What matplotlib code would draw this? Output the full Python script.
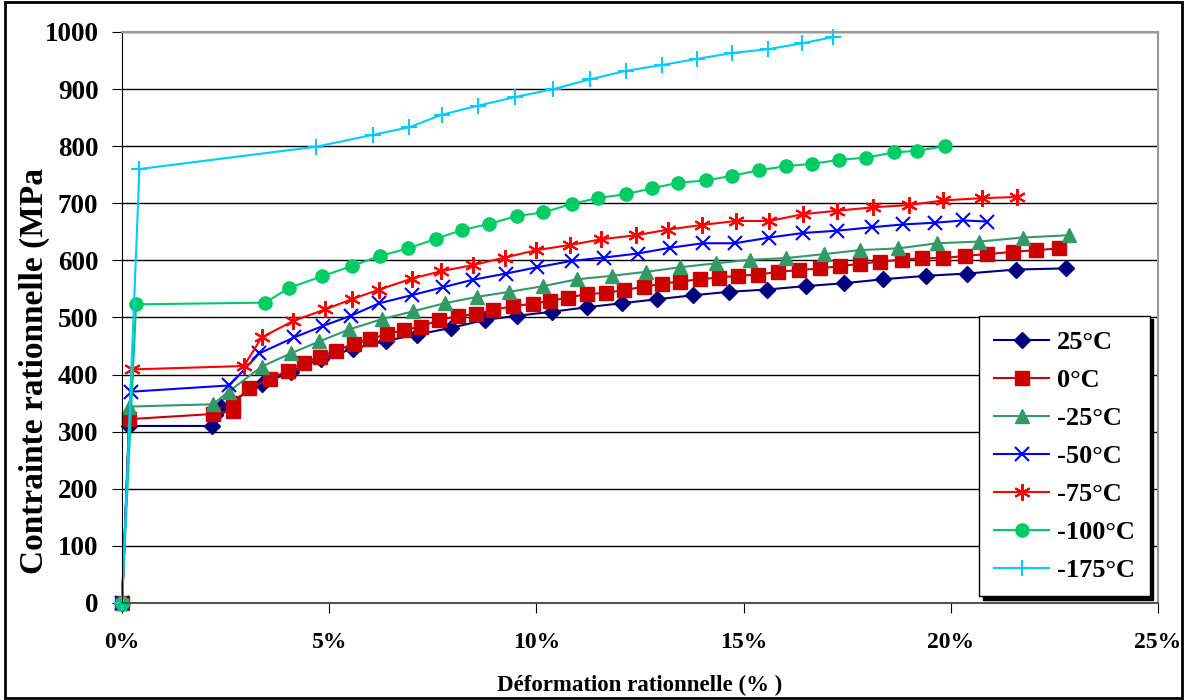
import matplotlib.pyplot as plt
from matplotlib.patches import Rectangle
from matplotlib.ticker import FuncFormatter

# Données (déformation en %, contrainte en MPa)
x_25 = [0, 0.17, 2.16, 2.25, 2.4, 3.38, 4.07, 4.8, 5.58, 6.36, 7.12, 7.95, 8.77, 9.54, 10.37,
        11.23, 12.06, 12.92, 13.79, 14.65, 15.57, 16.5, 17.43, 18.37, 19.4, 20.4, 21.57, 22.77]
y_25 = [0, 310, 310, 329, 344, 383, 405, 428, 445, 459, 470, 482, 496, 503, 510,
        518, 525, 532, 539, 545, 549, 555, 560, 567, 573, 577, 584, 586]

x_0 = [0, 0.18, 2.2, 2.68, 2.68, 3.07, 3.57, 4.01, 4.39, 4.78, 5.16, 5.6, 5.98, 6.4, 6.8,
       7.22, 7.66, 8.1, 8.53, 8.96, 9.43, 9.91, 10.33, 10.77, 11.21, 11.68, 12.11, 12.6,
       13.02, 13.47, 13.95, 14.41, 14.87, 15.34, 15.83, 16.34, 16.84, 17.33, 17.81, 18.29,
       18.81, 19.3, 19.82, 20.35, 20.88, 21.51, 22.06, 22.62]
y_0 = [0, 322, 331, 337, 350, 376, 393, 407, 421, 431, 442, 454, 462, 471, 478,
       484, 496, 502, 506, 513, 520, 524, 529, 535, 541, 543, 548, 554,
       559, 563, 567, 570, 573, 575, 580, 583, 586, 590, 594, 598,
       601, 604, 604, 608, 611, 615, 618, 621]

x_m25 = [0, 0.18, 2.19, 2.57, 3.37, 4.07, 4.76, 5.48, 6.27, 7.03, 7.79, 8.56, 9.35, 10.17,
         10.99, 11.82, 12.65, 13.47, 14.34, 15.15, 16.02, 16.94, 17.81, 18.73, 19.67,
         20.69, 21.73, 22.84]
y_m25 = [0, 344, 348, 370, 414, 437, 458, 479, 497, 511, 525, 536, 545, 555,
         567, 573, 580, 588, 595, 601, 604, 611, 618, 621, 630,
         633, 640, 644]

x_m50 = [0, 0.21, 2.59, 3.31, 4.15, 4.84, 5.52, 6.21, 6.99, 7.75, 8.46, 9.27, 10.02, 10.85,
         11.63, 12.44, 13.22, 14.01, 14.79, 15.62, 16.44, 17.26, 18.09, 18.85, 19.62,
         20.3, 20.87]
y_m50 = [0, 370, 381, 437, 465, 485, 503, 525, 539, 553, 566, 577, 588, 599,
         605, 612, 622, 630, 630, 640, 648, 652, 658, 663, 666,
         670, 668]

x_m75 = [0, 0.23, 2.94, 3.37, 4.13, 4.9, 5.54, 6.21, 6.99, 7.7, 8.48, 9.24, 10.0, 10.82,
         11.57, 12.4, 13.18, 13.99, 14.81, 15.62, 16.44, 17.26, 18.13, 19.0, 19.82,
         20.74, 21.59]
y_m75 = [0, 409, 415, 465, 494, 514, 532, 549, 568, 581, 592, 605, 618, 627,
         637, 644, 654, 662, 669, 669, 681, 687, 693, 697, 705,
         709, 711]

x_m100 = [0, 0.34, 3.45, 4.04, 4.82, 5.54, 6.23, 6.91, 7.58, 8.2, 8.86, 9.54, 10.17, 10.85,
          11.48, 12.15, 12.78, 13.42, 14.09, 14.71, 15.38, 16.02, 16.64, 17.31, 17.95,
          18.63, 19.18, 19.86]
y_m100 = [0, 523, 526, 552, 572, 590, 608, 621, 638, 653, 664, 678, 684, 699,
          709, 716, 726, 736, 740, 748, 758, 765, 769, 776, 780,
          789, 792, 800]

x_m175 = [0, 0.42, 4.68, 6.06, 6.93, 7.71, 8.6, 9.48, 10.41, 11.29, 12.16, 13.02, 13.88,
          14.71, 15.6, 16.4, 17.16]
y_m175 = [0, 760, 799, 820, 833, 855, 871, 886, 900, 917, 932, 942, 953,
          963, 970, 980, 991]

labels = ['25°C', '0°C', '-25°C', '-50°C', '-75°C', '-100°C', '-175°C']

plt.rcParams['font.family'] = ['Liberation Serif', 'DejaVu Serif']
plt.rcParams['font.weight'] = 'bold'

fig = plt.figure(figsize=(11.87, 7.0), dpi=100)
ax = fig.add_axes([0.1028, 0.1386, 0.8728, 0.8157])

# cadre extérieur
fig.patches.append(Rectangle((0.004, 0.003), 0.992, 0.994, transform=fig.transFigure,
                             fill=False, edgecolor='black', linewidth=2))

asterisk = (6, 2, 0)
style = dict(lw=1.5, clip_on=False)
ax.plot(x_25, y_25, color='#000080', marker='D', ms=8.5, label=labels[0], **style)
ax.plot(x_0, y_0, color='#CC0000', marker='s', ms=9.5, label=labels[1], **style)
ax.plot(x_m25, y_m25, color='#339966', marker='^', ms=10.5, label=labels[2], **style)
ax.plot(x_m50, y_m50, color='#0000FF', marker='x', ms=10, mew=1.5, label=labels[3], **style)
ax.plot(x_m75, y_m75, color='#FF0000', marker=asterisk, ms=12, mew=1.5, label=labels[4], **style)
ax.plot(x_m100, y_m100, color='#00CC66', marker='o', ms=9.5, label=labels[5], **style)
ax.plot(x_m175, y_m175, color='#00CCFF', marker='+', ms=12, mew=1.5, label=labels[6], **style)

ax.set_xlim(0, 25)
ax.set_ylim(0, 1000)
ax.set_xticks([0, 5, 10, 15, 20, 25])
ax.set_yticks(range(0, 1001, 100))
ax.xaxis.set_major_formatter(FuncFormatter(lambda v, p: '%d%%' % v))
ax.yaxis.grid(True, color='black', lw=1)
ax.set_axisbelow(True)

for side in ['top', 'right']:
    ax.spines[side].set_color('#999999')
    ax.spines[side].set_linewidth(1.5)
ax.spines['left'].set_color('black')
ax.spines['bottom'].set_color('#555555')
ax.spines['bottom'].set_linewidth(1.5)

ax.tick_params(axis='y', direction='out', length=7, labelsize=19.5, pad=10)
ax.tick_params(axis='x', direction='out', length=7, labelsize=17, pad=14)
for t in ax.get_xticklabels() + ax.get_yticklabels():
    t.set_fontweight('bold')

ax.set_xlabel('Déformation rationnelle (% )', fontsize=16.5, fontweight='bold', labelpad=16)
ax.set_ylabel('Contrainte rationnelle (MPa', fontsize=24, fontweight='bold')
ax.yaxis.set_label_coords(-0.0695, 0.406)

leg = ax.legend(loc='upper right', bbox_to_anchor=(0.992, 0.5026), borderaxespad=0,
                frameon=True, fancybox=False, shadow={'color': 'black', 'alpha': 1, 'ox': 2.5, 'oy': -2.5},
                edgecolor='black', borderpad=0.55, labelspacing=0.55, handlelength=2.1,
                handletextpad=0.3, prop={'weight': 'bold', 'size': 19})
leg.get_frame().set_linewidth(1)

fig.savefig('out.png', dpi=100)
